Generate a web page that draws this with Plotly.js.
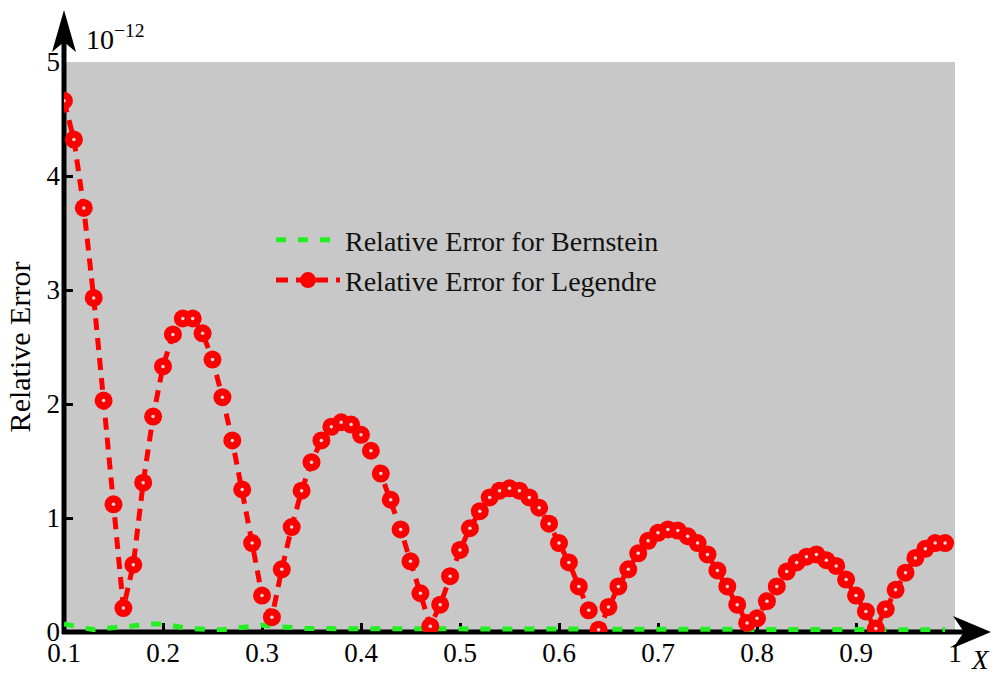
<!DOCTYPE html>
<html>
<head>
<meta charset="utf-8">
<script src="https://cdn.plot.ly/plotly-3.0.1.min.js"></script>
<style>
  html, body { margin: 0; padding: 0; background: #ffffff; }
  #chart { width: 999px; height: 673px; }
</style>
</head>
<body>
<div id="chart"></div>
<script>
// Sample points on [0.1, 0.99]
const xValues = [
  0.10, 0.11, 0.12, 0.13, 0.14, 0.15, 0.16, 0.17, 0.18, 0.19,
  0.20, 0.21, 0.22, 0.23, 0.24, 0.25, 0.26, 0.27, 0.28, 0.29,
  0.30, 0.31, 0.32, 0.33, 0.34, 0.35, 0.36, 0.37, 0.38, 0.39,
  0.40, 0.41, 0.42, 0.43, 0.44, 0.45, 0.46, 0.47, 0.48, 0.49,
  0.50, 0.51, 0.52, 0.53, 0.54, 0.55, 0.56, 0.57, 0.58, 0.59,
  0.60, 0.61, 0.62, 0.63, 0.64, 0.65, 0.66, 0.67, 0.68, 0.69,
  0.70, 0.71, 0.72, 0.73, 0.74, 0.75, 0.76, 0.77, 0.78, 0.79,
  0.80, 0.81, 0.82, 0.83, 0.84, 0.85, 0.86, 0.87, 0.88, 0.89,
  0.90, 0.91, 0.92, 0.93, 0.94, 0.95, 0.96, 0.97, 0.98, 0.99
];

// Relative error (units of 1e-12), Legendre approximation
const legendreError = [
  4.66, 4.32, 3.72, 2.93, 2.03, 1.12, 0.21, 0.59, 1.31, 1.89,
  2.33, 2.61, 2.75, 2.75, 2.62, 2.39, 2.06, 1.68, 1.25, 0.78,
  0.32, 0.13, 0.55, 0.92, 1.24, 1.49, 1.68, 1.80, 1.84, 1.82,
  1.73, 1.59, 1.39, 1.16, 0.90, 0.62, 0.34, 0.05, 0.24, 0.49,
  0.72, 0.91, 1.06, 1.18, 1.24, 1.26, 1.24, 1.18, 1.09, 0.95,
  0.78, 0.61, 0.40, 0.19, 0.02, 0.22, 0.40, 0.55, 0.69, 0.80,
  0.87, 0.90, 0.89, 0.84, 0.78, 0.68, 0.54, 0.40, 0.24, 0.08,
  0.12, 0.27, 0.40, 0.53, 0.61, 0.66, 0.68, 0.63, 0.58, 0.46,
  0.32, 0.18, 0.03, 0.20, 0.37, 0.52, 0.65, 0.73, 0.78, 0.78
];

// Relative error (units of 1e-12), Bernstein approximation
const bernsteinError = [
  0.07, 0.05, 0.03, 0.02, 0.03, 0.04, 0.05, 0.06, 0.06, 0.07,
  0.07, 0.05, 0.04, 0.03, 0.02, 0.02, 0.02, 0.03, 0.04, 0.05,
  0.06, 0.05, 0.05, 0.04, 0.03, 0.03, 0.03, 0.03, 0.03, 0.03,
  0.03, 0.03, 0.03, 0.03, 0.03, 0.03, 0.03, 0.03, 0.03, 0.03,
  0.03, 0.03, 0.03, 0.02, 0.02, 0.02, 0.02, 0.02, 0.02, 0.02,
  0.02, 0.02, 0.02, 0.02, 0.02, 0.02, 0.02, 0.02, 0.02, 0.02,
  0.02, 0.02, 0.02, 0.02, 0.02, 0.02, 0.02, 0.02, 0.02, 0.02,
  0.02, 0.02, 0.02, 0.02, 0.02, 0.02, 0.02, 0.02, 0.02, 0.02,
  0.02, 0.02, 0.02, 0.02, 0.02, 0.02, 0.02, 0.02, 0.02, 0.02
];

const xTickVals = [0.1, 0.2, 0.3, 0.4, 0.5, 0.6, 0.7, 0.8, 0.9, 1.0];
const xTickText = ['0.1', '0.2', '0.3', '0.4', '0.5', '0.6', '0.7', '0.8', '0.9', '1'];
const yTickVals = [0, 1, 2, 3, 4, 5];
const yTickText = ['0', '1', '2', '3', '4', '5'];

const serif = 'Liberation Serif, Times New Roman, serif';

// plot area in page pixels, used to place the arrowed axis lines
const L = 64, R = 955, T = 62, B = 632;
const px = v => (v - L) / (R - L);
const py = v => (B - v) / (B - T);
const path = pts => 'M' + pts.map(p => px(p[0]).toFixed(5) + ',' + py(p[1]).toFixed(5)).join(' L') + ' Z';

const traces = [
  {
    x: xValues, y: bernsteinError,
    name: 'Relative Error for Bernstein',
    type: 'scatter', mode: 'lines',
    line: { color: '#22ee22', width: 5, dash: '10px,12px' },
    legendgroup: 'b'
  },
  {
    x: xValues, y: legendreError,
    name: 'Relative Error for Legendre',
    type: 'scatter', mode: 'lines+markers',
    line: { color: '#ff0000', width: 5, dash: '12px,8px' },
    marker: { color: '#ff0000', size: 18, symbol: 'circle', line: { width: 0 } },
    legendgroup: 'l'
  },
  {
    // small light centre in each circle marker
    x: xValues, y: legendreError,
    type: 'scatter', mode: 'markers',
    marker: { color: 'rgba(255,255,255,0.85)', size: 3.5, line: { width: 0 } },
    showlegend: false, hoverinfo: 'skip'
  }
];

const layout = {
  width: 999, height: 673,
  margin: { l: L, r: 999 - R, t: T, b: 673 - B, pad: 0 },
  paper_bgcolor: '#ffffff',
  plot_bgcolor: '#c8c8c8',
  font: { family: serif, size: 27, color: '#000000' },
  showlegend: true,
  legend: {
    x: px(271), y: py(215), xanchor: 'left', yanchor: 'top',
    bgcolor: 'rgba(0,0,0,0)', borderwidth: 0,
    font: { family: serif, size: 28, color: '#111111' },
    itemwidth: 64, traceorder: 'grouped', tracegroupgap: 1
  },
  xaxis: {
    range: [0.1, 1.0],
    tickvals: xTickVals, ticktext: xTickText,
    ticks: 'inside', ticklen: 9, tickwidth: 3, tickcolor: '#000000',
    showline: false, showgrid: false, zeroline: false,
    tickfont: { family: serif, size: 27, color: '#000000' },
    ticklabelstandoff: 2,
    layer: 'below traces', fixedrange: true
  },
  yaxis: {
    range: [0, 5],
    tickvals: yTickVals, ticktext: yTickText,
    ticks: 'inside', ticklen: 9, tickwidth: 3, tickcolor: '#000000',
    showline: false, showgrid: false, zeroline: false,
    tickfont: { family: serif, size: 27, color: '#000000' },
    ticklabelstandoff: 3,
    title: { text: 'Relative Error', font: { family: serif, size: 30, color: '#000000' }, standoff: 7 },
    layer: 'below traces', fixedrange: true
  },
  shapes: [
    // horizontal axis line
    { type: 'line', xref: 'paper', yref: 'paper', x0: px(62), x1: px(972), y0: 0, y1: 0,
      line: { color: '#000000', width: 5 }, layer: 'below' },
    // vertical axis line
    { type: 'line', xref: 'paper', yref: 'paper', x0: 0, x1: 0, y0: py(634), y1: py(30),
      line: { color: '#000000', width: 5 }, layer: 'below' },
    // arrow heads
    { type: 'path', xref: 'paper', yref: 'paper',
      path: path([[64, 10], [76, 52], [64, 42], [52, 52]]),
      fillcolor: '#000000', line: { width: 0 }, layer: 'above' },
    { type: 'path', xref: 'paper', yref: 'paper',
      path: path([[991, 632], [953, 648], [964, 632], [953, 616]]),
      fillcolor: '#000000', line: { width: 0 }, layer: 'above' }
  ],
  annotations: [
    { text: '10<sup>\u221212</sup>', xref: 'paper', yref: 'paper',
      x: px(84), y: py(57), xanchor: 'left', yanchor: 'bottom', showarrow: false,
      font: { family: serif, size: 28, color: '#000000' } },
    { text: 'X', xref: 'paper', yref: 'paper',
      x: px(980), y: py(660), xanchor: 'center', yanchor: 'middle', showarrow: false,
      font: { family: serif, size: 27, color: '#000000', style: 'italic' } }
  ]
};

Plotly.newPlot('chart', traces, layout, { displayModeBar: false, staticPlot: true });
</script>
</body>
</html>
